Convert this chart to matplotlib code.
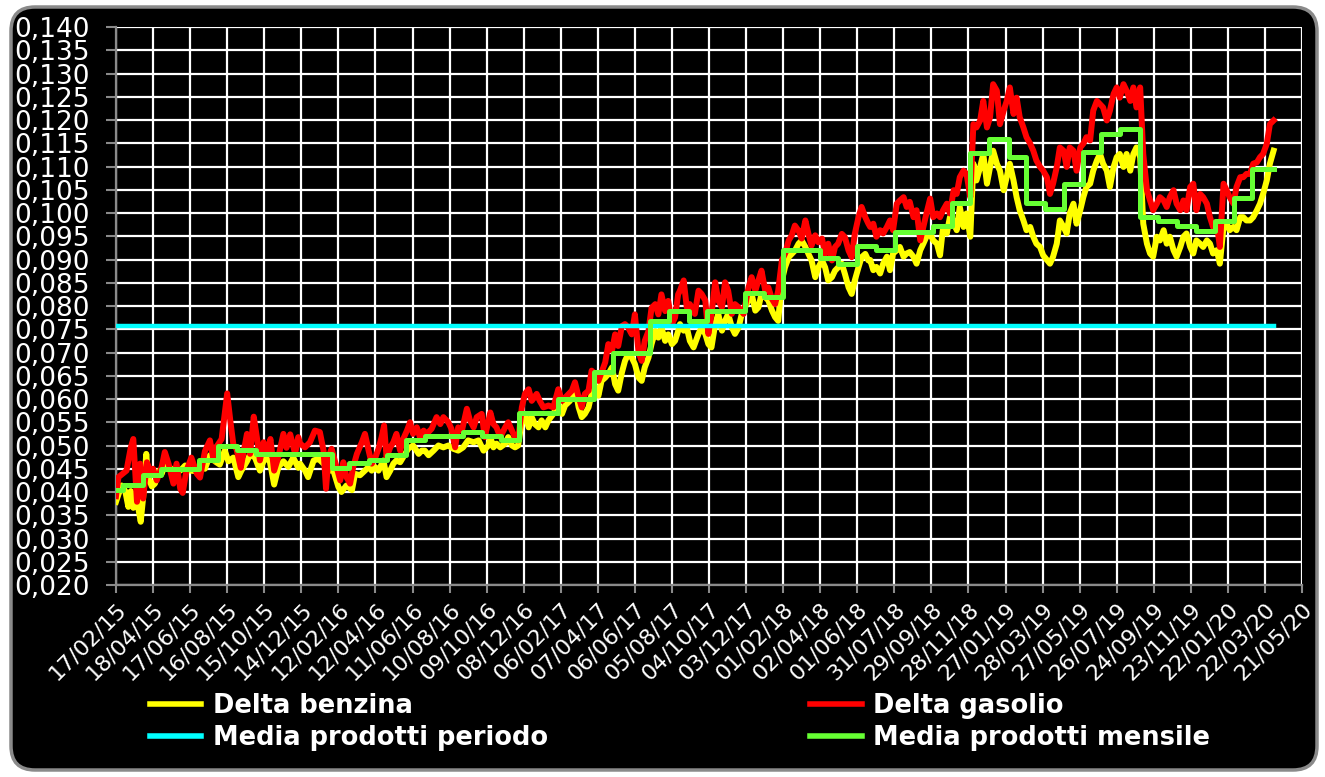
import numpy as np
import pandas as pd
import matplotlib
matplotlib.use("Agg")
import matplotlib.pyplot as plt
from matplotlib.patches import FancyBboxPatch
from matplotlib.lines import Line2D
from matplotlib.transforms import IdentityTransform

# ---------------- data ----------------
start_date = "2015-02-17"
axis_end_date = "2020-05-21"
tick_step_days = 60

# Delta gasolio: day offset from start_date, value
days_gasolio = [0, 4, 17, 24, 28, 34, 39, 44, 50, 55, 60, 66, 74, 79, 85, 93, 98, 104, 108, 114, 122, 131, 136, 144, 152,
                158, 163, 171, 176, 180, 185, 190, 195, 202, 206, 212, 217, 223, 228, 233, 239, 245, 250, 256, 263, 271,
                276, 282, 290, 295,
                298, 306, 314, 322, 330, 336, 340, 344, 349, 357, 363, 368, 373, 379, 384, 390, 398, 403, 409, 414, 419,
                425, 430, 434, 438, 444, 449, 454, 460, 465, 471, 476, 481, 487, 492, 498, 503, 511, 519, 525, 530, 538,
                543, 549, 554, 560, 568, 573, 579, 584, 592, 597,
                606, 611, 616, 622, 630, 635, 641, 646, 651, 657, 662, 668, 673, 681, 686, 692, 700, 708, 716, 722, 730,
                738, 743, 749, 754, 759, 765, 770, 776, 781, 786, 792, 797, 803, 808, 813, 819, 824, 829, 835, 840, 846,
                851, 856, 862, 867, 873, 878, 883, 889, 894, 900, 905, 910,
                913, 919, 924, 929, 937, 943, 948, 954, 959, 964, 970, 975, 981, 986, 991, 997, 1002, 1008, 1016, 1024,
                1029, 1035, 1040, 1045, 1051, 1056, 1062, 1067, 1072, 1078, 1083, 1089, 1094, 1099, 1105, 1110, 1116,
                1121, 1126, 1132, 1137, 1143, 1148, 1153, 1159, 1164, 1169, 1175, 1180, 1186, 1191, 1196, 1202, 1207,
                1213, 1218,
                1221, 1226, 1231, 1237, 1242, 1248, 1253, 1258, 1264, 1269, 1275, 1280, 1285, 1291, 1296, 1302, 1307,
                1312, 1318, 1323, 1329, 1334, 1339, 1345, 1350, 1356, 1361, 1366, 1372, 1377, 1383, 1388, 1393, 1399,
                1404, 1410, 1415, 1420, 1426, 1431, 1437, 1442, 1447, 1453, 1458, 1463, 1469, 1474, 1480, 1485, 1490,
                1496, 1501, 1507, 1512, 1517, 1523,
                1528, 1534, 1539, 1544, 1550, 1555, 1561, 1566, 1571, 1577, 1582, 1588, 1593, 1598, 1604, 1609, 1615,
                1620, 1625, 1631, 1636, 1642, 1647, 1652, 1658, 1663, 1669, 1674, 1679, 1685, 1690, 1696, 1701, 1706,
                1712, 1717, 1723, 1728, 1733, 1739, 1744, 1749, 1755, 1760, 1766, 1771, 1776, 1782, 1787, 1793, 1798,
                1803, 1809, 1814, 1820, 1825, 1830, 1836, 1841, 1847, 1852, 1857, 1863, 1868, 1874]
gasolio = [0.0391, 0.0432, 0.0446, 0.0496, 0.0514, 0.0379, 0.0461, 0.0386, 0.0464, 0.0446, 0.0450, 0.0425, 0.0454,
           0.0486, 0.0461, 0.0418, 0.0461, 0.0407, 0.0398, 0.0446, 0.0474, 0.0439, 0.0431, 0.0488, 0.0511, 0.0468,
           0.0498, 0.0514, 0.0568, 0.0612, 0.0554, 0.0502, 0.0493, 0.0452, 0.0482, 0.0525, 0.0482, 0.0562, 0.0518,
           0.0468, 0.0507, 0.0482, 0.0514, 0.0446, 0.0476, 0.0525, 0.0495, 0.0524, 0.0482, 0.0518,
           0.0504, 0.0496, 0.0507, 0.0532, 0.0529, 0.0489, 0.0407, 0.0475, 0.0493, 0.0454, 0.0425, 0.0464, 0.0432,
           0.0418, 0.0454, 0.0482, 0.0507, 0.0525, 0.0489, 0.0461, 0.0471, 0.0493, 0.0518, 0.0543, 0.0475, 0.0496,
           0.0507, 0.0525, 0.0489, 0.0514, 0.0532, 0.0550, 0.0525, 0.0539, 0.0518, 0.0532, 0.0525, 0.0536, 0.0561,
           0.0546, 0.0561, 0.0550, 0.0536, 0.0496, 0.0539, 0.0532, 0.0579, 0.0554, 0.0539, 0.0561, 0.0568, 0.0518,
           0.0571, 0.0546, 0.0539, 0.0518, 0.0539, 0.0550, 0.0532, 0.0518, 0.0511, 0.0582, 0.0611, 0.0621, 0.0596,
           0.0611, 0.0596, 0.0582, 0.0586, 0.0582, 0.0621, 0.0596, 0.0607, 0.0618, 0.0636, 0.0604, 0.0582, 0.0611,
           0.0618, 0.0661, 0.0654, 0.0639, 0.0657, 0.0679, 0.0718, 0.0704, 0.0739, 0.0714, 0.0757, 0.0761, 0.0754,
           0.0739, 0.0782, 0.0700, 0.0682, 0.0725, 0.0746, 0.0796, 0.0804, 0.0782, 0.0825, 0.0789, 0.0811, 0.0761,
           0.0775, 0.0825,
           0.0833, 0.0855, 0.0797, 0.0804, 0.0783, 0.0833, 0.0826, 0.0812, 0.0740, 0.0783, 0.0851, 0.0812, 0.0797,
           0.0851, 0.0833, 0.0783, 0.0804, 0.0797, 0.0783, 0.0840, 0.0862, 0.0833, 0.0855, 0.0876, 0.0833, 0.0840,
           0.0815, 0.0804, 0.0833, 0.0898, 0.0912, 0.0941, 0.0952, 0.0973, 0.0962, 0.0945, 0.0984, 0.0955, 0.0930,
           0.0952, 0.0937, 0.0945, 0.0912, 0.0934, 0.0898, 0.0927, 0.0934, 0.0955, 0.0948, 0.0919, 0.0905, 0.0955,
           0.0991, 0.1013, 0.0991, 0.0977,
           0.0970, 0.0977, 0.0949, 0.0963, 0.0956, 0.0970, 0.0984, 0.0963, 0.1020, 0.1027, 0.1034, 0.1013, 0.1024,
           0.0991, 0.1006, 0.0941, 0.0970, 0.0999, 0.1031, 0.0991, 0.0999, 0.0991, 0.1006, 0.1020, 0.0999, 0.1049,
           0.1041, 0.1077, 0.1091, 0.1084, 0.1034, 0.1191, 0.1184, 0.1199, 0.1241, 0.1184, 0.1206, 0.1277, 0.1263,
           0.1191, 0.1220, 0.1241, 0.1270, 0.1213, 0.1248, 0.1206, 0.1184, 0.1163, 0.1149, 0.1134, 0.1113, 0.1099,
           0.1091, 0.1077, 0.1041, 0.1063, 0.1099,
           0.1141, 0.1134, 0.1099, 0.1141, 0.1134, 0.1091, 0.1141, 0.1149, 0.1163, 0.1156, 0.1220, 0.1241, 0.1234,
           0.1227, 0.1199, 0.1220, 0.1256, 0.1270, 0.1248, 0.1277, 0.1263, 0.1241, 0.1270, 0.1227, 0.1270, 0.1127,
           0.1049, 0.1027, 0.1006, 0.1020, 0.1034, 0.1027, 0.1013, 0.1034, 0.1049, 0.1020, 0.1006, 0.1027, 0.1006,
           0.1056, 0.1063, 0.1006, 0.1041, 0.1034, 0.1020, 0.0991, 0.0970, 0.0977, 0.0927, 0.1063, 0.1049, 0.1034,
           0.1020, 0.1056, 0.1077, 0.1077, 0.1084, 0.1084, 0.1106, 0.1109, 0.1120, 0.1127, 0.1149, 0.1191, 0.1199]

# Delta benzina: day offset from start_date, value
days_benzina = [0, 4, 9, 15, 20, 24, 28, 34, 40, 44, 49, 52, 58, 63, 69, 74, 79, 87, 96, 104, 112, 120, 128, 136, 144,
                152, 160, 168, 176, 182, 190, 198, 203, 212, 217, 225, 233, 241, 249, 256, 263, 271, 279, 287, 295,
                298, 306, 311, 320, 328, 336, 344, 352, 360, 365, 373, 382, 387, 395, 403, 409, 414, 419, 425, 433, 438,
                444, 449, 454, 460, 468, 473, 481, 490, 495, 500, 506, 514, 522, 530, 538, 546, 554, 562, 570, 579, 587,
                595, 603,
                606, 611, 616, 622, 630, 635, 641, 646, 651, 657, 662, 668, 673, 678, 684, 689, 695, 700, 708, 716, 722,
                727, 735, 743, 749, 754, 759, 765, 770, 776, 781, 786, 792, 797, 803, 808, 813, 819, 824, 829, 835, 840,
                846, 851, 856, 862, 867, 873, 878, 883, 889, 894, 900, 905, 910,
                913, 919, 924, 929, 935, 943, 948, 954, 959, 964, 970, 975, 981, 986, 991, 997, 1002, 1008, 1013, 1018,
                1024, 1029, 1035, 1040, 1045, 1051, 1056, 1062, 1067, 1072, 1078, 1083, 1089, 1094, 1099, 1105, 1110,
                1116, 1121, 1126, 1132, 1137, 1143, 1148, 1153, 1159, 1164, 1169, 1175, 1180, 1186, 1191, 1196, 1202,
                1207, 1213, 1218,
                1221, 1226, 1231, 1237, 1242, 1248, 1253, 1258, 1264, 1269, 1275, 1280, 1285, 1291, 1296, 1302, 1307,
                1312, 1318, 1323, 1329, 1334, 1339, 1345, 1350, 1356, 1361, 1366, 1372, 1377, 1383, 1388, 1393, 1399,
                1404, 1410, 1415, 1420, 1426, 1431, 1437, 1442, 1447, 1453, 1458, 1463, 1469, 1474, 1480, 1485, 1490,
                1496, 1501, 1507, 1512, 1517, 1523,
                1528, 1534, 1539, 1544, 1550, 1555, 1561, 1566, 1571, 1577, 1582, 1588, 1593, 1598, 1604, 1609, 1615,
                1620, 1625, 1631, 1636, 1642, 1647, 1652, 1658, 1663, 1669, 1674, 1679, 1685, 1690, 1696, 1701, 1706,
                1712, 1717, 1723, 1728, 1733, 1739, 1744, 1749, 1755, 1760, 1766, 1771, 1776, 1782, 1787, 1793, 1798,
                1803, 1809, 1814, 1820, 1825, 1830, 1836, 1841, 1847, 1852, 1857, 1863, 1868, 1874]
benzina = [0.0379, 0.0395, 0.0414, 0.0402, 0.0368, 0.0402, 0.0366, 0.0381, 0.0336, 0.0389, 0.0482, 0.0432, 0.0412,
           0.0418, 0.0445, 0.0439, 0.0459, 0.0452, 0.0446, 0.0446, 0.0457, 0.0446, 0.0445, 0.0454, 0.0450, 0.0479,
           0.0466, 0.0459, 0.0489, 0.0466, 0.0474, 0.0432, 0.0446, 0.0466, 0.0481, 0.0474, 0.0446, 0.0474, 0.0466,
           0.0416, 0.0454, 0.0466, 0.0454, 0.0474, 0.0452,
           0.0461, 0.0446, 0.0432, 0.0468, 0.0471, 0.0461, 0.0446, 0.0446, 0.0411, 0.0400, 0.0414, 0.0404, 0.0439,
           0.0436, 0.0446, 0.0454, 0.0446, 0.0454, 0.0446, 0.0468, 0.0432, 0.0446, 0.0461, 0.0468, 0.0464, 0.0482,
           0.0493, 0.0500, 0.0482, 0.0489, 0.0489, 0.0479, 0.0489, 0.0500, 0.0496, 0.0500, 0.0493, 0.0489, 0.0496,
           0.0511, 0.0507, 0.0511, 0.0489, 0.0500,
           0.0518, 0.0496, 0.0504, 0.0496, 0.0504, 0.0518, 0.0500, 0.0496, 0.0500, 0.0554, 0.0568, 0.0539, 0.0561,
           0.0546, 0.0539, 0.0554, 0.0539, 0.0554, 0.0568, 0.0589, 0.0568, 0.0586, 0.0596, 0.0625, 0.0582, 0.0561,
           0.0568, 0.0582, 0.0611, 0.0625, 0.0607, 0.0639, 0.0646, 0.0654, 0.0668, 0.0632, 0.0618, 0.0657, 0.0682,
           0.0696, 0.0689, 0.0675, 0.0646, 0.0639, 0.0668, 0.0689, 0.0718, 0.0746, 0.0732, 0.0754, 0.0725, 0.0739,
           0.0718, 0.0725, 0.0746,
           0.0761, 0.0747, 0.0754, 0.0725, 0.0711, 0.0740, 0.0754, 0.0740, 0.0718, 0.0711, 0.0761, 0.0783, 0.0747,
           0.0768, 0.0783, 0.0754, 0.0740, 0.0754, 0.0783, 0.0797, 0.0812, 0.0826, 0.0790, 0.0797, 0.0826, 0.0819,
           0.0812, 0.0790, 0.0776, 0.0768, 0.0855, 0.0883, 0.0905, 0.0912, 0.0919, 0.0934, 0.0941, 0.0927, 0.0912,
           0.0898, 0.0862, 0.0883, 0.0898, 0.0883, 0.0855, 0.0862, 0.0876, 0.0883, 0.0891, 0.0869, 0.0840, 0.0826,
           0.0855, 0.0883, 0.0905, 0.0912, 0.0898,
           0.0899, 0.0877, 0.0884, 0.0870, 0.0891, 0.0906, 0.0877, 0.0913, 0.0920, 0.0927, 0.0906, 0.0913, 0.0916,
           0.0906, 0.0891, 0.0920, 0.0934, 0.0949, 0.0956, 0.0941, 0.0934, 0.0909, 0.0970, 0.0956, 0.0991, 0.0984,
           0.0963, 0.1013, 0.0970, 0.0999, 0.0949, 0.1106, 0.1070, 0.1099, 0.1127, 0.1063, 0.1099, 0.1134, 0.1106,
           0.1091, 0.1049, 0.1077, 0.1106, 0.1070, 0.1034, 0.1006, 0.0984, 0.0963, 0.0970, 0.0949, 0.0934, 0.0927,
           0.0909, 0.0899, 0.0891, 0.0906, 0.0934,
           0.0984, 0.0970, 0.0956, 0.0999, 0.1020, 0.0977, 0.1006, 0.1034, 0.1056, 0.1063, 0.1091, 0.1113, 0.1127,
           0.1106, 0.1091, 0.1056, 0.1099, 0.1120, 0.1127, 0.1099, 0.1127, 0.1091, 0.1127, 0.1141, 0.1120, 0.0977,
           0.0934, 0.0913, 0.0906, 0.0949, 0.0941, 0.0963, 0.0934, 0.0949, 0.0920, 0.0906, 0.0927, 0.0949, 0.0956,
           0.0927, 0.0913, 0.0941, 0.0934, 0.0927, 0.0941, 0.0934, 0.0913, 0.0920, 0.0891, 0.0970, 0.0977, 0.0963,
           0.0970, 0.0963, 0.0991, 0.0991, 0.0984, 0.0984, 0.0991, 0.1006, 0.1020, 0.1041, 0.1070, 0.1106, 0.1134]

# Media prodotti mensile: one value per month, Feb 2015 .. Mar 2020
mesi_start = "2015-02-01"
mesi_end = "2020-03-01"
media_mensile = [0.0404, 0.0416, 0.0436, 0.0450, 0.0450, 0.0469, 0.0498, 0.0491, 0.0481, 0.0481, 0.0481,
                 0.0481, 0.0451, 0.0462, 0.0469, 0.0480, 0.0511, 0.0521, 0.0521, 0.0530, 0.0521, 0.0511, 0.0570,
                 0.0570, 0.0600, 0.0600, 0.0659, 0.0699, 0.0699, 0.0768, 0.0789, 0.0768, 0.0790, 0.0790, 0.0829,
                 0.0819, 0.0921, 0.0921, 0.0903, 0.0891, 0.0928, 0.0921, 0.0959, 0.0959, 0.0971, 0.1021, 0.1130,
                 0.1160, 0.1120, 0.1021, 0.1009, 0.1062, 0.1132, 0.1170, 0.1180, 0.0992, 0.0983, 0.0972, 0.0961,
                 0.0983, 0.1033, 0.1094]

# Media prodotti periodo
media_periodo = 0.0758
last_day = 1875

labels = ["Delta benzina", "Delta gasolio", "Media prodotti periodo", "Media prodotti mensile"]
y_ticks = np.round(np.arange(0.020, 0.1401, 0.005), 3)

# ---------------- derived ----------------
t0 = pd.Timestamp(start_date)
t_end_axis = pd.Timestamp(axis_end_date)
x_benz = t0 + pd.to_timedelta(days_benzina, unit="D")
x_gas = t0 + pd.to_timedelta(days_gasolio, unit="D")
t_last = t0 + pd.Timedelta(days=last_day)
month_starts = pd.date_range(mesi_start, mesi_end, freq="MS")
x_month = [max(m, t0) for m in month_starts] + [t_last]
y_month = list(media_mensile) + [media_mensile[-1]]
tick_dates = pd.date_range(t0, t_end_axis, freq=f"{tick_step_days}D")

# ---------------- figure ----------------
W, H = 1325, 777
fig = plt.figure(figsize=(W / 100, H / 100), dpi=100)
fig.patch.set_facecolor("white")

frame = FancyBboxPatch((11, 7), 1306, 763, boxstyle="round,pad=0,rounding_size=24",
                       transform=IdentityTransform(), facecolor="black",
                       edgecolor="#8a8a8a", linewidth=2.5, zorder=-10)
fig.patches.append(frame)

L, R, T, B = 116, 1302, 27, 585
ax = fig.add_axes([L / W, 1 - B / H, (R - L) / W, (B - T) / H])
ax.set_zorder(2)
ax.set_facecolor("black")

ax.plot(x_benz, benzina, color="#ffff00", lw=4.3, solid_joinstyle="round", zorder=3)
ax.plot(x_gas, gasolio, color="#ff0000", lw=4.3, solid_joinstyle="round", zorder=4)
ax.plot([t0, t_last], [media_periodo, media_periodo], color="#00ffff", lw=3.2, zorder=5)
ax.plot(x_month, y_month, drawstyle="steps-post", color="#66ff33", lw=3.6, zorder=6)

ax.set_xlim(t0, t_end_axis)
ax.set_ylim(0.020, 0.140)
ax.set_yticks(y_ticks)
ax.set_yticklabels([f"{v:.3f}".replace(".", ",") for v in y_ticks])
ax.set_xticks(tick_dates)
ax.set_xticklabels([d.strftime("%d/%m/%y") for d in tick_dates])

ax.grid(True, color="white", lw=1.6, zorder=1)
ax.set_axisbelow(True)
for s in ["top", "right"]:
    ax.spines[s].set_visible(False)
for s in ["left", "bottom"]:
    ax.spines[s].set_color("#8a8a8a")
    ax.spines[s].set_linewidth(1.6)

ax.tick_params(axis="y", colors="#8a8a8a", labelcolor="white", labelsize=19, length=7, width=1.5, pad=12)
ax.tick_params(axis="x", colors="#8a8a8a", labelcolor="white", labelsize=16, length=6, width=1.5, pad=4)
for lab in ax.get_xticklabels():
    lab.set_rotation(45)
    lab.set_ha("right")
    lab.set_va("top")
    lab.set_rotation_mode("anchor")

handles = [Line2D([], [], color="#ffff00", lw=4),
           Line2D([], [], color="#00ffff", lw=4),
           Line2D([], [], color="#ff0000", lw=4),
           Line2D([], [], color="#66ff33", lw=4)]
hl = [labels[0], labels[2], labels[1], labels[3]]
leg = fig.legend(handles, hl, ncol=2, loc="upper left", bbox_to_anchor=(150 / W, 1 - 693 / H),
                 frameon=False, prop={"weight": "bold", "size": 18.5}, labelcolor="white",
                 handlelength=2.0, handletextpad=0.45, columnspacing=10.2, labelspacing=0.22,
                 borderpad=0, borderaxespad=0)
leg.set_zorder(3)

fig.savefig("out.png", dpi=100, facecolor="white")
